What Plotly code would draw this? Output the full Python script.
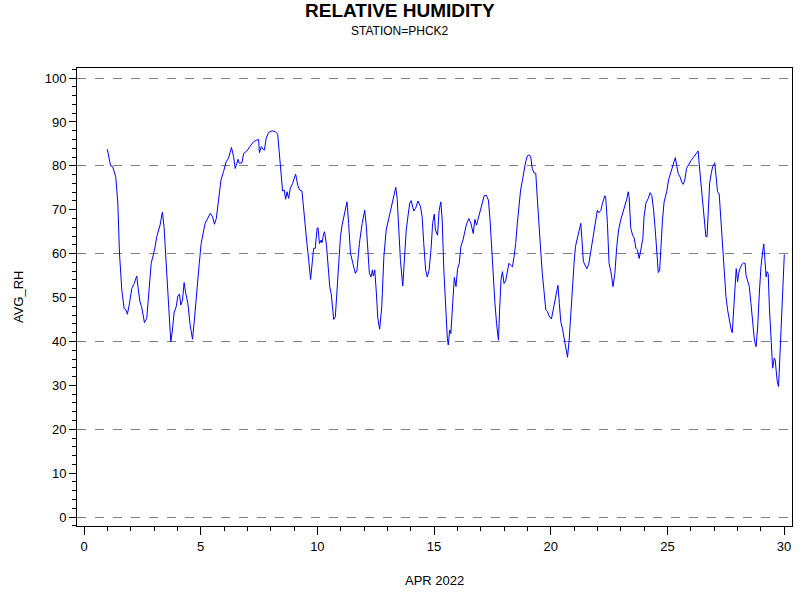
import plotly.graph_objects as go

# valeurs (jour d'avril 2022, humidité relative moyenne)
jour = [1.00, 1.14, 1.23, 1.36, 1.45, 1.52, 1.62, 1.72, 1.80, 1.86, 1.93, 2.05, 2.15, 2.26, 2.33,
        2.40, 2.47, 2.59, 2.69, 2.79, 2.88, 3.02, 3.12, 3.26, 3.36, 3.43, 3.52, 3.62, 3.72, 3.79,
        3.86, 3.95, 4.02, 4.09, 4.15, 4.22, 4.29, 4.36, 4.45, 4.55, 4.65, 4.73, 4.84, 4.94, 5.02,
        5.08, 5.19, 5.29, 5.41, 5.51, 5.59, 5.67, 5.76, 5.87, 5.98, 6.09, 6.19, 6.27, 6.32, 6.41,
        6.48, 6.55, 6.60, 6.65, 6.77, 6.84, 6.98, 7.12, 7.27, 7.41, 7.48, 7.52, 7.60, 7.67, 7.73,
        7.81, 7.91, 8.06, 8.20, 8.30, 8.37, 8.44, 8.51, 8.58, 8.64, 8.70, 8.77, 8.84, 8.94, 9.01,
        9.07, 9.16, 9.24, 9.34, 9.41, 9.48, 9.56, 9.63, 9.71, 9.79, 9.84, 9.91, 9.99, 10.03, 10.09,
        10.16, 10.20, 10.27, 10.31, 10.39, 10.46, 10.53, 10.60, 10.70, 10.77, 10.85, 10.91, 10.99,
        11.06, 11.16, 11.27, 11.34, 11.42, 11.52, 11.63, 11.70, 11.80, 11.92, 12.03, 12.10, 12.16,
        12.23, 12.30, 12.36, 12.40, 12.46, 12.53, 12.59, 12.67, 12.76, 12.85, 12.95, 13.06, 13.20,
        13.32, 13.36, 13.42, 13.49, 13.56, 13.66, 13.73, 13.81, 13.89, 13.96, 14.02, 14.13, 14.21,
        14.31, 14.42, 14.49, 14.56, 14.64, 14.71, 14.79, 14.88, 14.94, 15.01, 15.06, 15.15, 15.22,
        15.29, 15.35, 15.42, 15.49, 15.57, 15.61, 15.67, 15.72, 15.79, 15.87, 15.94, 16.01, 16.08,
        16.15, 16.24, 16.31, 16.39, 16.49, 16.58, 16.68, 16.75, 16.82, 16.92, 17.04, 17.15, 17.24,
        17.33, 17.40, 17.47, 17.54, 17.61, 17.68, 17.76, 17.81, 17.87, 17.93, 18.00, 18.07, 18.14,
        18.21, 18.28, 18.36, 18.43, 18.50, 18.57, 18.64, 18.71, 18.79, 18.86, 18.93, 19.00, 19.07,
        19.14, 19.21, 19.28, 19.36, 19.43, 19.50, 19.57, 19.64, 19.71, 19.79, 19.86, 19.93, 20.03,
        20.10, 20.17, 20.24, 20.31, 20.37, 20.43, 20.50, 20.57, 20.64, 20.72, 20.79, 20.86, 20.93,
        21.00, 21.06, 21.15, 21.22, 21.29, 21.34, 21.40, 21.47, 21.55, 21.63, 21.72, 21.79, 21.86,
        21.93, 22.00, 22.06, 22.15, 22.22, 22.32, 22.36, 22.43, 22.50, 22.58, 22.67, 22.75, 22.83,
        22.91, 23.00, 23.10, 23.19, 23.26, 23.32, 23.36, 23.43, 23.51, 23.58, 23.65, 23.72, 23.79,
        23.86, 23.95, 24.00, 24.08, 24.18, 24.26, 24.33, 24.41, 24.48, 24.55, 24.61, 24.67, 24.72,
        24.79, 24.86, 24.97, 25.05, 25.15, 25.25, 25.34, 25.41, 25.46, 25.55, 25.62, 25.68, 25.75,
        25.82, 25.91, 26.01, 26.11, 26.22, 26.32, 26.36, 26.44, 26.51, 26.58, 26.65, 26.70, 26.75,
        26.81, 26.88, 26.94, 27.03, 27.08, 27.15, 27.22, 27.30, 27.37, 27.44, 27.51, 27.58, 27.65,
        27.73, 27.78, 27.84, 27.90, 27.95, 28.01, 28.05, 28.11, 28.20, 28.27, 28.33, 28.37, 28.44,
        28.51, 28.58, 28.66, 28.73, 28.80, 28.87, 28.94, 29.01, 29.09, 29.13, 29.18, 29.23, 29.27,
        29.32, 29.37, 29.44, 29.51, 29.58, 29.62, 29.70, 29.76, 29.79, 29.87, 29.94, 30.01]

avg_rh = [83.8, 80.0, 79.8, 77.5, 71.5, 60.1, 51.7, 47.5, 47.2, 46.2, 48.1, 52.1, 53.2, 54.9, 51.7,
          49.0, 47.9, 44.3, 45.3, 51.0, 57.8, 60.8, 63.9, 66.5, 69.5, 66.1, 57.8, 46.4, 39.9, 42.6,
          46.5, 47.9, 50.3, 50.8, 48.3, 49.4, 53.4, 51.0, 48.7, 43.7, 40.5, 44.9, 52.5, 57.8, 62.3,
          64.2, 66.9, 67.9, 69.2, 68.4, 66.7, 68.0, 72.6, 76.8, 78.7, 80.9, 81.7, 83.6, 84.2, 82.1,
          79.4, 80.6, 81.5, 80.6, 80.7, 82.8, 83.4, 84.5, 85.5, 85.9, 86.0, 83.0, 84.4, 83.8, 83.6,
          86.3, 87.6, 88.0, 87.8, 87.2, 82.8, 77.5, 74.3, 74.5, 72.4, 74.1, 72.6, 74.9, 76.0, 77.2,
          78.1, 75.6, 74.5, 74.3, 69.9, 65.4, 62.0, 58.5, 54.1, 58.5, 61.2, 61.2, 65.8, 65.9, 62.3,
          63.1, 62.5, 64.6, 65.0, 62.0, 57.0, 52.5, 50.6, 45.0, 45.6, 52.5, 59.3, 63.9,
          66.5, 68.8, 71.8, 66.9, 60.1, 57.8, 55.5, 56.3, 62.3, 66.9, 69.9, 66.1, 60.1,
          55.5, 54.7, 56.3, 54.9, 56.3, 51.0, 45.3, 42.8, 47.9, 59.3, 65.4, 68.0, 71.5,
          74.9, 75.1, 72.6, 65.4, 58.5, 52.6, 58.5, 65.4, 68.8, 71.5, 72.1, 69.7, 70.3,
          72.0, 70.7, 68.4, 62.3, 56.3, 54.7, 56.3, 61.6, 66.9, 69.0, 65.4, 64.2, 69.9,
          71.8, 67.7, 56.3, 47.2, 40.7, 39.2, 42.6, 41.8, 48.7, 54.6, 52.5, 56.6, 57.8,
          61.6, 63.1, 65.2, 66.7, 68.0, 66.9, 64.6, 67.8, 66.5, 68.4, 71.1, 73.2, 73.3,
          72.2, 67.7, 60.8, 55.5, 48.7, 44.1, 40.3, 47.2, 54.0, 55.9, 53.2, 53.8, 56.3,
          57.8, 57.4, 57.0, 59.3, 62.3, 66.9, 70.7, 74.5, 76.8, 79.0, 81.0, 82.3, 82.5,
          82.2, 79.4, 78.4, 78.3, 72.2, 65.4, 60.8, 55.5, 51.0, 47.2, 46.8, 45.8, 45.1,
          47.2, 48.7, 50.8, 52.8, 48.7, 44.5, 43.0, 41.1, 38.4, 36.4, 40.3, 46.4, 54.0,
          57.8, 61.6, 63.7, 64.6, 66.9, 63.1, 58.2, 57.4, 56.6, 57.6, 60.8, 62.7, 65.8,
          68.4, 69.9, 69.3, 69.9, 71.5, 73.2, 72.6, 66.9, 57.8, 55.9, 52.5, 55.5, 61.6,
          65.4, 67.7, 69.5, 71.5, 72.4, 74.1, 73.0, 65.8, 64.2, 63.5, 61.2, 60.8, 58.9,
          60.8, 63.5, 68.4, 71.5, 72.6, 73.9, 73.3, 69.9, 65.4, 60.1, 55.7, 56.3, 61.6,
          67.7, 71.8, 74.1, 76.8, 78.7, 80.2, 81.9, 79.8, 78.3, 77.4, 76.2, 75.8, 76.9,
          79.4, 80.4, 81.2, 81.9, 82.8, 83.4, 80.6, 76.0, 71.8, 68.4, 63.9, 63.9, 69.9,
          76.0, 78.3, 79.8, 80.7, 78.3, 74.1, 73.6, 66.9, 60.1, 54.0, 50.2, 47.2, 44.9,
          42.8, 42.0, 47.9, 54.0, 56.6, 53.6, 55.5, 56.6, 57.6, 57.9, 57.8, 55.1, 53.6,
          52.5, 48.7, 44.5, 40.3, 38.8, 43.3, 51.0, 57.0, 60.8, 62.2, 58.5, 54.7, 55.9,
          55.5, 47.9, 40.3, 33.9, 36.2, 35.8, 31.2, 29.7, 32.7, 43.3, 52.5, 59.8]

police = 'Liberation Sans'

fig = go.Figure()
fig.add_trace(go.Scatter(x=jour, y=avg_rh, mode='lines',
                         line=dict(color='#0000ff', width=1), showlegend=False))
# axe fantôme pour les lignes pointillées tous les 20
fig.add_trace(go.Scatter(x=[None], y=[None], yaxis='y2', showlegend=False))

fig.update_layout(
    width=800, height=600,
    plot_bgcolor='white', paper_bgcolor='white',
    margin=dict(l=77, r=8, t=68, b=74),
    font=dict(family=police, size=13, color='black'),
    xaxis=dict(range=[-0.3, 30.34], tick0=0, dtick=5, ticks='outside', ticklen=8,
               tickcolor='black', showline=True, linecolor='black', linewidth=1, mirror=True,
               showgrid=False, zeroline=False,
               minor=dict(dtick=1, ticks='outside', ticklen=4, tickcolor='black')),
    yaxis=dict(range=[-2.05, 102.3], tick0=0, dtick=10, ticks='outside', ticklen=7,
               tickcolor='black', showline=True, linecolor='black', linewidth=1, mirror=True,
               showgrid=False, zeroline=False,
               minor=dict(dtick=2, ticks='outside', ticklen=4, tickcolor='black')),
    yaxis2=dict(range=[-2.05, 102.3], overlaying='y', tick0=0, dtick=20, showgrid=True,
                griddash='dash', gridcolor='#808080', gridwidth=1, showticklabels=False,
                ticks='', zeroline=False, showline=False),
)

fig.add_annotation(text='<b>RELATIVE HUMIDITY</b>', xref='paper', yref='paper',
                   x=0.4517, y=1.1255, xanchor='center', yanchor='middle', showarrow=False,
                   font=dict(size=19, family=police))
fig.add_annotation(text='STATION=PHCK2', xref='paper', yref='paper',
                   x=0.4517, y=1.080, xanchor='center', yanchor='middle', showarrow=False,
                   font=dict(size=12, family=police))
fig.add_annotation(text='AVG_RH', xref='paper', yref='paper', textangle=-90,
                   x=-0.0825, y=0.5, xanchor='center', yanchor='middle', showarrow=False,
                   font=dict(size=13, family=police))
fig.add_annotation(text='APR 2022', xref='paper', yref='paper',
                   x=0.5, y=-0.118, xanchor='center', yanchor='middle', showarrow=False,
                   font=dict(size=13, family=police))

# la page a une marge de 8 px par défaut : on la retire
fig.write_html('out.html', config={'displayModeBar': False},
               post_script="document.body.style.margin='0px';")
